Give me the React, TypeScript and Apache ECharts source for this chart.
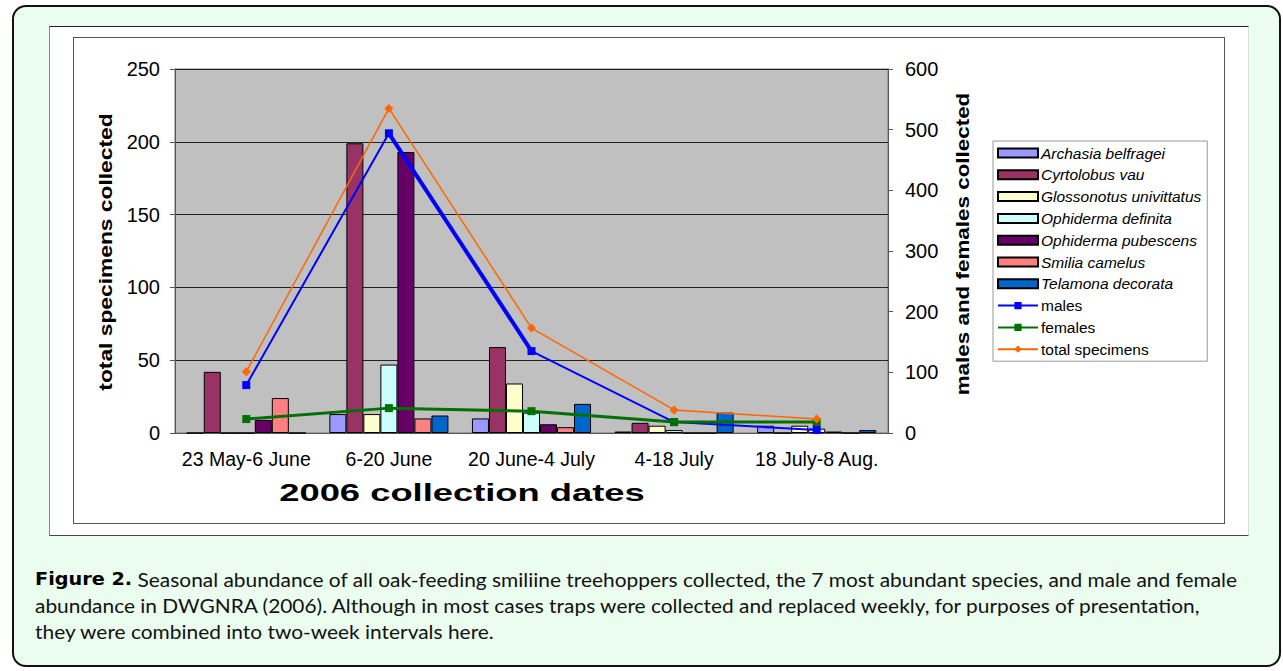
import React, { useEffect, useRef } from "react";
import * as echarts from "echarts";

const categories = ["23 May-6 June", "6-20 June", "20 June-4 July", "4-18 July", "18 July-8 Aug."];
const speciesNames = [
  "Archasia belfragei",
  "Cyrtolobus vau",
  "Glossonotus univittatus",
  "Ophiderma definita",
  "Ophiderma pubescens",
  "Smilia camelus",
  "Telamona decorata",
];
const archasia = [0, 13, 10, 1, 5];
const cyrtolobus = [42, 199, 59, 7, 0];
const glossonotus = [0, 13, 34, 5, 5];
const ophiDefinita = [0, 47, 14, 2, 3];
const ophiPubescens = [9, 193, 6, 0, 1];
const smilia = [24, 10, 4, 0, 0];
const telamona = [0, 12, 20, 14, 2];
const males = [79, 494, 135, 18, 5];
const females = [23, 41, 36, 18, 18];
const totalSpecimens = [101, 535, 173, 38, 23];
const leftTicks = { min: 0, max: 250, interval: 50 };
const rightTicks = { min: 0, max: 600, interval: 100 };

const speciesData = [archasia, cyrtolobus, glossonotus, ophiDefinita, ophiPubescens, smilia, telamona];
const speciesColors = ["#9999FF", "#993366", "#FFFFCC", "#CCFFFF", "#660066", "#FF8080", "#0066CC"];

const FONT = 'Arial, "Liberation Sans", sans-serif';
const CAPFONT = 'Lato, "Open Sans", sans-serif';

export default function App() {
  const ref = useRef<HTMLDivElement>(null);
  useEffect(() => {
    if (!ref.current) return;
    const chart = echarts.init(ref.current, null, { renderer: "svg" });
    const barSeries = speciesNames.map((name, i) => ({
      name,
      type: "bar",
      yAxisIndex: 0,
      data: speciesData[i],
      barGap: "0%",
      barCategoryGap: "16.5%",
      itemStyle: { color: speciesColors[i], borderColor: "#000", borderWidth: 1 },
    }));
    const maleThick = males.map((v, i) => (i === 1 || i === 2 ? v : null));
    const option = {
      animation: false,
      textStyle: { fontFamily: FONT },
      grid: {
        left: 175,
        top: 69,
        width: 713,
        height: 364,
        show: true,
        backgroundColor: "#C0C0C0",
        borderColor: "#777",
        borderWidth: 1,
      },
      xAxis: {
        type: "category",
        data: categories,
        axisLine: { lineStyle: { color: "#555" } },
        axisTick: { length: 5, lineStyle: { color: "#555" } },
        axisLabel: { fontSize: 19.5, color: "#000", margin: 16, interval: 0, fontFamily: FONT },
      },
      yAxis: [
        {
          type: "value",
          ...leftTicks,
          position: "left",
          axisLine: { show: true, lineStyle: { color: "#555" } },
          axisTick: { show: true, length: 5, lineStyle: { color: "#555" } },
          axisLabel: { fontSize: 20, color: "#000", margin: 15, fontFamily: FONT },
          splitLine: { lineStyle: { color: "#222", width: 1 } },
        },
        {
          type: "value",
          ...rightTicks,
          position: "right",
          axisLine: { show: true, lineStyle: { color: "#555" } },
          axisTick: { show: true, length: 5, lineStyle: { color: "#555" } },
          axisLabel: { fontSize: 20, color: "#000", margin: 17, fontFamily: FONT },
          splitLine: { show: false },
        },
      ],
      legend: {
        orient: "vertical",
        left: 993,
        top: 141,
        padding: [4, 6, 4, 4],
        itemWidth: 40,
        itemHeight: 9,
        itemGap: 5.8,
        backgroundColor: "#fff",
        borderColor: "#999",
        borderWidth: 1,
        borderRadius: 0,
        textStyle: { fontSize: 15.5, color: "#000", fontFamily: FONT, padding: [0, 0, 0, -2] },
        data: [
          ...speciesNames.map((n) => ({ name: n, icon: "rect", textStyle: { fontStyle: "italic" } })),
          "males",
          "females",
          "total specimens",
        ],
      },
      graphic: [
        {
          type: "text",
          x: 105,
          y: 252,
          rotation: Math.PI / 2,
          scaleX: 1.2,
          style: {
            text: "total specimens collected",
            fontSize: 19,
            fontWeight: "bold",
            fontFamily: FONT,
            fill: "#000",
            align: "center",
            verticalAlign: "middle",
          },
        },
        {
          type: "text",
          x: 962,
          y: 244,
          rotation: Math.PI / 2,
          scaleX: 1.18,
          style: {
            text: "males and females collected",
            fontSize: 19,
            fontWeight: "bold",
            fontFamily: FONT,
            fill: "#000",
            align: "center",
            verticalAlign: "middle",
          },
        },
        {
          type: "text",
          x: 462,
          y: 493,
          scaleX: 1.58,
          style: {
            text: "2006 collection dates",
            fontSize: 23,
            fontWeight: "bold",
            fontFamily: FONT,
            fill: "#000",
            align: "center",
            verticalAlign: "middle",
          },
        },
        {
          type: "text",
          x: 35,
          y: 566,
          scaleX: 1.1,
          style: {
            text:
              "{b|Figure 2.} Seasonal abundance of all oak-feeding smiliine treehoppers collected, the 7 most abundant species, and male and female\nabundance in DWGNRA (2006). Although in most cases traps were collected and replaced weekly, for purposes of presentation,\nthey were combined into two-week intervals here.",
            fontSize: 19,
            lineHeight: 26,
            fontFamily: CAPFONT,
            fill: "#111",
            rich: {
              b: { fontSize: 17.5, fontWeight: "bold", fontFamily: '"DejaVu Sans", Verdana, sans-serif', fill: "#000", lineHeight: 26 },
            },
          },
        },
      ],
      series: [
        ...barSeries,
        {
          name: "males",
          type: "line",
          yAxisIndex: 1,
          data: males,
          symbol: "rect",
          symbolSize: 8,
          z: 5,
          itemStyle: { color: "#0000FF" },
          lineStyle: { color: "#0000FF", width: 2 },
        },
        {
          name: "males-peak",
          type: "line",
          yAxisIndex: 1,
          data: maleThick,
          symbol: "none",
          silent: true,
          z: 5,
          connectNulls: false,
          lineStyle: { color: "#0000FF", width: 4 },
        },
        {
          name: "females",
          type: "line",
          yAxisIndex: 1,
          data: females,
          symbol: "rect",
          symbolSize: 8,
          z: 6,
          itemStyle: { color: "#007000" },
          lineStyle: { color: "#007000", width: 3 },
        },
        {
          name: "total specimens",
          type: "line",
          yAxisIndex: 1,
          data: totalSpecimens,
          symbol: "diamond",
          symbolSize: 9,
          z: 7,
          itemStyle: { color: "#FF6600" },
          lineStyle: { color: "#FF6600", width: 1.5 },
        },
      ],
    };
    chart.setOption(option as any);
    return () => chart.dispose();
  }, []);

  return (
    <div style={{ position: "fixed", left: 0, top: 0, width: 1283, height: 671, background: "#fff", overflow: "hidden" }}>
      <div
        style={{
          position: "absolute",
          left: 12,
          top: 5,
          width: 1269,
          height: 662,
          boxSizing: "border-box",
          border: "2px solid #111",
          borderRadius: 14,
          background: "#EBFDEE",
        }}
      />
      <div
        style={{
          position: "absolute",
          left: 49,
          top: 26,
          width: 1200,
          height: 510,
          boxSizing: "border-box",
          background: "#fff",
          borderTop: "1.5px solid #222",
          borderBottom: "1.5px solid #444",
          borderLeft: "1px solid #888",
          borderRight: "1px solid #ddd",
        }}
      />
      <div
        style={{
          position: "absolute",
          left: 73,
          top: 37,
          width: 1152,
          height: 487,
          boxSizing: "border-box",
          background: "#fff",
          border: "1.5px solid #555",
        }}
      />
      <div ref={ref} style={{ position: "absolute", left: 0, top: 0, width: 1283, height: 671 }} />
    </div>
  );
}
